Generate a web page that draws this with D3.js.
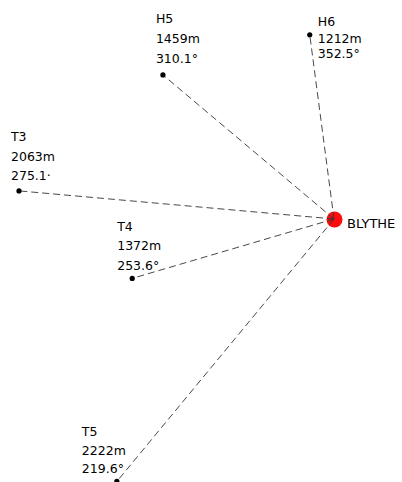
<!DOCTYPE html>
<html>
<head>
<meta charset="utf-8">
<script src="https://cdn.jsdelivr.net/npm/d3@7"></script>
<style>
  body { margin: 0; background: #fff; }
  svg { display: block; }
  text { font-family: "DejaVu Sans", Verdana, sans-serif; fill: #000; }
</style>
</head>
<body>
<svg id="svg1" width="402" height="482"></svg>
<script>
// station data
var stationName = 'BLYTHE';
var sites = ['H5', 'H6', 'T3', 'T4', 'T5'];
var distances = [1459, 1212, 2063, 1372, 2222];      // metres
var bearings = [310.1, 352.5, 275.1, 253.6, 219.6];  // degrees from north
var bearingLabels = ['310.1°', '352.5°', '275.1·', '253.6°', '219.6°'];

// label layout (offsets from each point, px)
var labelDx = [-7, 8, -8, -15, -35];
var labelDy = [[-52, -32, -12], [-9, 8, 23], [-50, -30, -11], [-47, -28, -8], [-45, -26, -8]];

var width = document.getElementById('svg1').clientWidth;
var height = document.getElementById('svg1').clientHeight;

var centerX = 334;
var centerY = 219;

var svg = d3.select('svg');

// metres -> pixels
var rScale = d3.scaleLinear().domain([0, 1000]).range([0, 153.3]);

var points = sites.map(function(s, i) {
    var a = bearings[i] * Math.PI / 180;
    var r = rScale(distances[i]);
    return {
        name: s,
        dist: distances[i],
        label: bearingLabels[i],
        x: centerX + r * Math.sin(a),
        y: centerY - r * Math.cos(a),
        i: i
    };
});

var defs = svg.append('defs');
defs.append('filter')
    .attr('id', 'soft')
    .attr('x', '-50%').attr('y', '-50%')
    .attr('width', '200%').attr('height', '200%')
    .append('feGaussianBlur')
    .attr('stdDeviation', 0.5);

// station marker
svg.append('circle')
    .attr('cx', centerX + 0.5)
    .attr('cy', centerY + 0.5)
    .attr('r', 8)
    .attr('fill', '#ff0d0d')
    .attr('filter', 'url(#soft)');

svg.append('text')
    .attr('x', centerX + 13)
    .attr('y', centerY + 9)
    .style('font-size', '13px')
    .text(stationName);

// dashed rays
svg.selectAll('line.ray')
    .data(points)
    .enter()
    .append('line')
    .attr('class', 'ray')
    .attr('x1', centerX)
    .attr('y1', centerY)
    .attr('x2', function(d) { return d.x; })
    .attr('y2', function(d) { return d.y; })
    .attr('stroke', '#333')
    .attr('stroke-width', 0.9)
    .attr('stroke-dasharray', '7,4');

svg.selectAll('circle.site')
    .data(points)
    .enter()
    .append('circle')
    .attr('class', 'site')
    .attr('cx', function(d) { return d.x; })
    .attr('cy', function(d) { return d.y; })
    .attr('r', 2.6)
    .attr('fill', '#000');

// three-line labels
var labels = svg.selectAll('g.label')
    .data(points)
    .enter()
    .append('g')
    .attr('class', 'label');

labels.each(function(d) {
    var g = d3.select(this);
    var lines = [d.name, d.dist + 'm', d.label];
    lines.forEach(function(t, k) {
        g.append('text')
            .attr('x', d.x + labelDx[d.i])
            .attr('y', d.y + labelDy[d.i][k])
            .style('font-size', '12.5px')
            .text(t);
    });
});
</script>
</body>
</html>
